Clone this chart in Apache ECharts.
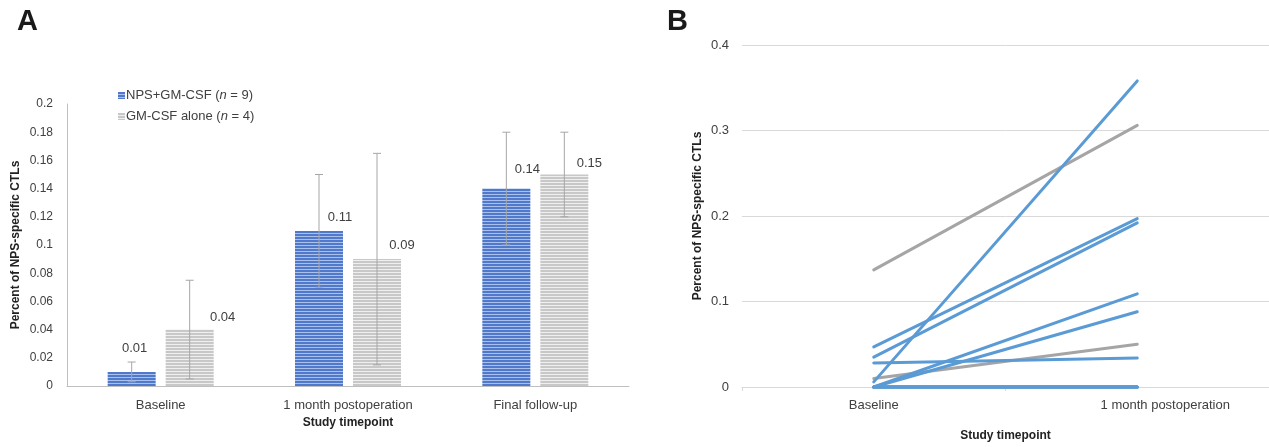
<!DOCTYPE html>
<html>
<head>
<meta charset="utf-8">
<script src="https://cdn.jsdelivr.net/npm/echarts@6/dist/echarts.min.js"></script>
<style>html,body{margin:0;padding:0;background:#fff}#c{width:1269px;height:447px}</style>
</head>
<body>
<div id="c"></div>
<script>
// ---- Panel A data ----
const categoriesA = ['Baseline', '1 month postoperation', 'Final follow-up'];
const seriesNamesA = ['NPS+GM-CSF', 'GM-CSF alone'];
const seriesNLabels = ['9', '4'];
const npsMean = [0.01, 0.11, 0.14];
const npsErr = [0.007, 0.04, 0.04];
const gmMean = [0.04, 0.09, 0.15];
const gmErr = [0.035, 0.075, 0.03];
const yTicksA = { min: 0, max: 0.2, interval: 0.02 };

// ---- Panel B data ----
const categoriesB = ['Baseline', '1 month postoperation'];
const bBlueBaseline = [0.006, 0.047, 0.035, 0.028, 0, 0, 0, 0, 0];
const bBlueMonth = [0.358, 0.197, 0.192, 0.034, 0.109, 0.088, 0, 0, 0];
const bGrayBaseline = [0.137, 0.010, 0, 0];
const bGrayMonth = [0.306, 0.050, 0, 0];
const yTicksB = { min: 0, max: 0.4, interval: 0.1 };

// ---- styles ----
const labelOffsetsNps = [[3, -12], [21, -2], [21, -8]];
const labelOffsetsGm = [[33, -1], [25, -2], [25, 0]];
const BAR_W = 48, BAR_GAP = 10;

function stripe(c1, c2) {
  const cv = document.createElement('canvas');
  cv.width = 4; cv.height = 3;
  const ctx = cv.getContext('2d');
  ctx.fillStyle = c1; ctx.fillRect(0, 0, 4, 2);
  ctx.fillStyle = c2; ctx.fillRect(0, 2, 4, 1);
  return { image: cv, repeat: 'repeat' };
}
const bluePat = stripe('#5079cb', '#a9c1ec');
const grayPat = stripe('#c8c8c8', '#efefef');

const FONT = 'Liberation Sans, Arial, sans-serif';
const chart = echarts.init(document.getElementById('c'), null, { renderer: 'canvas' });

function errSeries(means, errs, side) {
  return {
    type: 'custom', xAxisIndex: 0, yAxisIndex: 0, z: 5, silent: true,
    data: means.map((m, i) => [i, m, errs[i]]),
    renderItem: function (params, api) {
      const i = api.value(0), m = api.value(1), e = api.value(2);
      const c = api.coord([i, m]);
      const x = c[0] + side * (BAR_W + BAR_GAP) / 2;
      const top = api.coord([i, m + e])[1];
      const bot = api.coord([i, m - e])[1];
      const st = { stroke: '#a6a6a6', lineWidth: 1 };
      return { type: 'group', children: [
        { type: 'line', shape: { x1: x, y1: top, x2: x, y2: bot }, style: st },
        { type: 'line', shape: { x1: x - 4, y1: top, x2: x + 4, y2: top }, style: st },
        { type: 'line', shape: { x1: x - 4, y1: bot, x2: x + 4, y2: bot }, style: st }
      ]};
    }
  };
}

function barData(vals, offs) {
  return vals.map((v, i) => ({ value: v, label: { offset: offs[i] } }));
}

const seriesB = [];
bGrayBaseline.forEach((v, i) => seriesB.push({
  type: 'line', xAxisIndex: 1, yAxisIndex: 1, data: [v, bGrayMonth[i]],
  symbol: 'none', clip: false, lineStyle: { color: '#a5a5a5', width: 3, cap: 'round' }, silent: true
}));
bBlueBaseline.forEach((v, i) => seriesB.push({
  type: 'line', xAxisIndex: 1, yAxisIndex: 1, data: [v, bBlueMonth[i]],
  symbol: 'none', clip: false, lineStyle: { color: '#5b9bd5', width: 3, cap: 'round' }, silent: true
}));

const option = {
  animation: false,
  textStyle: { fontFamily: FONT },
  graphic: [
    { type: 'text', left: 17, top: 7, style: { text: 'A', font: 'bold 29px ' + FONT, fill: '#1a1a1a' } },
    { type: 'text', left: 667, top: 7, style: { text: 'B', font: 'bold 29px ' + FONT, fill: '#1a1a1a' } }
  ],
  legend: {
    left: 113, top: 84, orient: 'vertical', itemWidth: 7, itemHeight: 7, itemGap: 8,
    icon: 'rect', data: seriesNamesA,
    formatter: function (name) {
      const k = seriesNamesA.indexOf(name);
      return '{t|' + name + ' (}{i|n}{t| = ' + seriesNLabels[k] + ')}';
    },
    textStyle: { padding: [0, 0, 0, -4], rich: {
      t: { fontSize: 13, color: '#404040', fontFamily: FONT },
      i: { fontSize: 13, color: '#404040', fontStyle: 'italic', fontFamily: FONT }
    } }
  },
  grid: [
    { left: 67, top: 104, width: 562, height: 282 },
    { left: 742, top: 45, width: 530, height: 342 }
  ],
  xAxis: [
    {
      type: 'category', gridIndex: 0, data: categoriesA,
      axisLine: { lineStyle: { color: '#bfbfbf', width: 1 } }, axisTick: { show: false },
      axisLabel: { color: '#404040', fontSize: 13, margin: 13 },
      name: 'Study timepoint', nameLocation: 'middle', nameGap: 31,
      nameTextStyle: { fontWeight: 'bold', fontSize: 12, color: '#222' }
    },
    {
      type: 'category', gridIndex: 1, data: categoriesB, boundaryGap: true,
      axisLine: { lineStyle: { color: '#d9d9d9', width: 1 } },
      axisTick: { show: true, length: 4, lineStyle: { color: '#d9d9d9' } },
      axisLabel: { color: '#404040', fontSize: 13, margin: 12,
        formatter: function (v, i) { return i === 1 ? '{s|' + v + '}' : v; },
        rich: { s: { fontSize: 13, color: '#404040', padding: [0, 0, 0, 56] } } },
      name: 'Study timepoint', nameLocation: 'middle', nameGap: 43,
      nameTextStyle: { fontWeight: 'bold', fontSize: 12, color: '#222' }
    }
  ],
  yAxis: [
    {
      type: 'value', gridIndex: 0, min: yTicksA.min, max: yTicksA.max, interval: yTicksA.interval,
      axisLine: { show: true, lineStyle: { color: '#bfbfbf', width: 1 } }, axisTick: { show: false },
      splitLine: { show: false },
      axisLabel: { color: '#404040', fontSize: 12, margin: 14 },
      name: 'Percent of NPS-specific CTLs', nameLocation: 'middle', nameGap: 45,
      nameTextStyle: { fontWeight: 'bold', fontSize: 12, color: '#222' }
    },
    {
      type: 'value', gridIndex: 1, min: yTicksB.min, max: yTicksB.max, interval: yTicksB.interval,
      axisLine: { show: false }, axisTick: { show: false },
      splitLine: { show: true, lineStyle: { color: '#d9d9d9', width: 1 } },
      axisLabel: { color: '#404040', fontSize: 13, margin: 13 },
      name: 'Percent of NPS-specific CTLs', nameLocation: 'middle', nameGap: 38,
      nameTextStyle: { fontWeight: 'bold', fontSize: 12, color: '#222' }
    }
  ],
  series: [
    {
      name: seriesNamesA[0], type: 'bar', xAxisIndex: 0, yAxisIndex: 0,
      barWidth: BAR_W, barGap: (BAR_GAP / BAR_W * 100) + '%',
      itemStyle: { color: bluePat },
      label: { show: true, position: 'top', color: '#404040', fontSize: 13, formatter: p => p.value.toFixed(2) },
      data: barData(npsMean, labelOffsetsNps)
    },
    {
      name: seriesNamesA[1], type: 'bar', xAxisIndex: 0, yAxisIndex: 0,
      barWidth: BAR_W,
      itemStyle: { color: grayPat },
      label: { show: true, position: 'top', color: '#404040', fontSize: 13, formatter: p => p.value.toFixed(2) },
      data: barData(gmMean, labelOffsetsGm)
    },
    errSeries(npsMean, npsErr, -1),
    errSeries(gmMean, gmErr, 1)
  ].concat(seriesB)
};
chart.setOption(option);
</script>
</body>
</html>
